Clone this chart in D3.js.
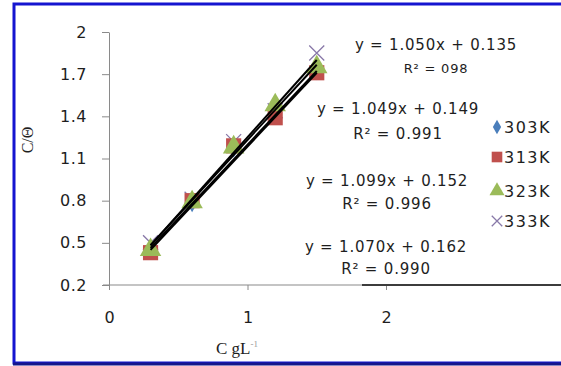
<!DOCTYPE html>
<html>
<head>
<meta charset="utf-8">
<script src="https://cdn.jsdelivr.net/npm/d3@7"></script>
<style>
  body { margin: 0; background: #fff; }
  svg { display: block; }
</style>
</head>
<body>
<svg width="561" height="366"></svg>
<script>
// concentrations (x) and C/theta values per temperature
var conc = [0.3, 0.6, 0.9, 1.2, 1.5];
var series = ['303K', '313K', '323K', '333K'];
var v303 = [0.45, 0.79, 1.18, 1.42, 1.73];
var v313 = [0.43, 0.80, 1.19, 1.39, 1.71];
var v323 = [0.45, 0.79, 1.18, 1.48, 1.75];
var v333 = [0.50, 0.81, 1.22, 1.44, 1.85];

// fitted lines as printed on the chart
var slopes = [1.050, 1.049, 1.099, 1.070];
var intercepts = [0.135, 0.149, 0.152, 0.162];
var eqLabels = ['y = 1.050x + 0.135', 'y = 1.049x + 0.149', 'y = 1.099x + 0.152', 'y = 1.070x + 0.162'];
var r2Labels = ['R\u00b2 = 098', 'R\u00b2 = 0.991', 'R\u00b2 = 0.996', 'R\u00b2 = 0.990'];

var yTicks = [0.2, 0.5, 0.8, 1.1, 1.4, 1.7, 2];
var xTicks = [0, 1, 2];

var svg = d3.select('svg');
var W = 561, H = 366;

var x = d3.scaleLinear().domain([0, 2]).range([109, 386]);
var y = d3.scaleLinear().domain([0.2, 2]).range([285, 32]);

var sansFont = 'DejaVu Sans, Verdana, sans-serif';
var textCol = '#1e1e1e';

// frame
svg.append('rect').attr('x', 14).attr('y', 4).attr('width', W + 10).attr('height', 359)
  .attr('fill', 'none').attr('stroke', '#1515d0').attr('stroke-width', 3);
svg.append('line').attr('x1', 13).attr('x2', W).attr('y1', 364).attr('y2', 364)
  .attr('stroke', '#16168a').attr('stroke-width', 3);

// y axis
var yAxis = svg.append('g').attr('transform', 'translate(' + x(0) + ',0)')
  .call(d3.axisLeft(y).tickValues(yTicks).tickFormat(d3.format('')).tickSizeOuter(0).tickSizeInner(7).tickPadding(15));
yAxis.select('.domain').attr('stroke', '#8a8a8a');
yAxis.selectAll('.tick line').attr('stroke', '#8a8a8a');
yAxis.selectAll('.tick text').attr('font-family', sansFont).attr('font-size', 16)
  .attr('letter-spacing', 0.5).attr('fill', textCol);

// x axis
var xAxis = svg.append('g').attr('transform', 'translate(0,' + y(0.2) + ')')
  .call(d3.axisBottom(x).tickValues(xTicks).tickFormat(d3.format('d')).tickSizeOuter(0).tickSizeInner(5).tickPadding(22));
xAxis.select('.domain').remove();
xAxis.selectAll('.tick line').attr('stroke', '#8a8a8a');
xAxis.selectAll('.tick text').attr('font-family', sansFont).attr('font-size', 16).attr('fill', textCol);
xAxis.append('line').attr('x1', x(0) - 6).attr('x2', W).attr('y1', 0).attr('y2', 0)
  .attr('stroke', '#8a8a8a').attr('stroke-width', 1.2);
xAxis.append('line').attr('x1', 362).attr('x2', W).attr('y1', 0).attr('y2', 0)
  .attr('stroke', '#3c3c3c').attr('stroke-width', 2.2);

// axis titles
svg.append('text').attr('transform', 'translate(33,140) rotate(-90)')
  .attr('text-anchor', 'middle').attr('font-family', 'Liberation Serif, Times New Roman, serif')
  .attr('font-size', 16).attr('fill', textCol).text('C/\u0398');
var xt = svg.append('text').attr('x', 216).attr('y', 354)
  .attr('font-family', 'Liberation Serif, Times New Roman, serif').attr('font-size', 17).attr('fill', textCol);
xt.append('tspan').text('C gL');
xt.append('tspan').attr('dy', -7).attr('font-size', 9).attr('fill', '#999').text('-1');

// markers
var allVals = [v303, v313, v323, v333];
var colors = ['#4a7ebb', '#c0504d', '#9bbb59', '#8878a8'];
var sym = [d3.symbolDiamond, d3.symbolSquare, d3.symbolTriangle, null];
var sizes = [120, 230, 200, 0];

function drawMarker(g, k, cx, cy, scale) {
  if (k === 3) {
    var r = 7.5 * scale;
    g.append('path').attr('d', 'M' + (cx - r) + ',' + (cy - r) + 'L' + (cx + r) + ',' + (cy + r) +
      'M' + (cx - r) + ',' + (cy + r) + 'L' + (cx + r) + ',' + (cy - r))
      .attr('stroke', colors[k]).attr('stroke-width', 1.3).attr('fill', 'none');
  } else {
    g.append('path').attr('d', d3.symbol().type(sym[k]).size(sizes[k] * scale * scale)())
      .attr('transform', 'translate(' + cx + ',' + cy + ')').attr('fill', colors[k]);
  }
}

var markG = svg.append('g');
[3, 0, 1, 2].forEach(function(k) {
  conc.forEach(function(c, i) {
    drawMarker(markG, k, x(c), y(allVals[k][i]), 1);
  });
});

// trend lines
var lineG = svg.append('g');
slopes.forEach(function(m, i) {
  var x0 = d3.min(conc), x1 = d3.max(conc);
  lineG.append('line')
    .attr('x1', x(x0)).attr('y1', y(m * x0 + intercepts[i]))
    .attr('x2', x(x1)).attr('y2', y(m * x1 + intercepts[i]))
    .attr('stroke', '#000').attr('stroke-width', 2);
});

// equation labels
var eqPos = [[436, 45, 68], [398, 109, 134], [387, 181, 204], [386, 247, 269]];
eqLabels.forEach(function(t, i) {
  svg.append('text').attr('x', eqPos[i][0]).attr('y', eqPos[i][1]).attr('dy', '0.35em')
    .attr('text-anchor', 'middle').attr('font-family', sansFont).attr('font-size', 15)
    .attr('letter-spacing', 0.8).attr('fill', textCol).text(t);
  svg.append('text').attr('x', eqPos[i][0]).attr('y', eqPos[i][2]).attr('dy', '0.35em')
    .attr('text-anchor', 'middle').attr('font-family', sansFont).attr('font-size', i === 0 ? 13 : 15)
    .attr('letter-spacing', 0.8).attr('fill', textCol).text(r2Labels[i]);
});

// legend
var legY = [127, 157, 191, 221];
var legG = svg.append('g');
series.forEach(function(s, k) {
  drawMarker(legG, k, 497, legY[k], 0.7);
  legG.append('text').attr('x', 504).attr('y', legY[k]).attr('dy', '0.35em')
    .attr('font-family', sansFont).attr('font-size', 16).attr('letter-spacing', 1.5)
    .attr('fill', textCol).text(s);
});
</script>
</body>
</html>
